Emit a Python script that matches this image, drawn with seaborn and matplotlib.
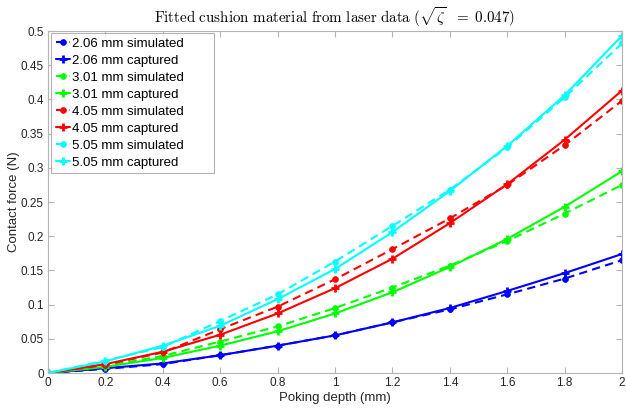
import matplotlib
matplotlib.use("Agg")
import matplotlib.pyplot as plt
import seaborn as sns
from matplotlib.ticker import FuncFormatter

# Poking depth (mm)
depth = [0, 0.2, 0.4, 0.6, 0.8, 1.0, 1.2, 1.4, 1.6, 1.8, 2.0]

# Contact force (N) per indenter size
sim_206 = [0, 0.006, 0.013, 0.026, 0.040, 0.055, 0.074, 0.093, 0.115, 0.138, 0.165]
cap_206 = [0, 0.007, 0.014, 0.026, 0.040, 0.055, 0.074, 0.095, 0.120, 0.146, 0.174]
sim_301 = [0, 0.010, 0.025, 0.046, 0.068, 0.095, 0.125, 0.157, 0.193, 0.233, 0.275]
cap_301 = [0, 0.009, 0.022, 0.040, 0.061, 0.087, 0.118, 0.155, 0.196, 0.243, 0.295]
sim_405 = [0, 0.012, 0.030, 0.064, 0.097, 0.137, 0.181, 0.226, 0.275, 0.333, 0.398]
cap_405 = [0, 0.013, 0.031, 0.056, 0.087, 0.124, 0.167, 0.219, 0.276, 0.341, 0.413]
sim_505 = [0, 0.018, 0.038, 0.076, 0.115, 0.163, 0.215, 0.268, 0.330, 0.403, 0.482]
cap_505 = [0, 0.017, 0.040, 0.069, 0.108, 0.152, 0.206, 0.266, 0.332, 0.406, 0.493]

sizes = ["2.06", "3.01", "4.05", "5.05"]
colors = ["#0000ff", "#00ff00", "#ff0000", "#00ffff"]
simulated = [sim_206, sim_301, sim_405, sim_505]
captured = [cap_206, cap_301, cap_405, cap_505]

x_ticks = [0, 0.2, 0.4, 0.6, 0.8, 1.0, 1.2, 1.4, 1.6, 1.8, 2.0]
y_ticks = [0, 0.05, 0.1, 0.15, 0.2, 0.25, 0.3, 0.35, 0.4, 0.45, 0.5]

sns.set_style("white")
plt.rcParams["font.family"] = ["Liberation Sans", "DejaVu Sans"]
plt.rcParams["mathtext.fontset"] = "cm"

fig = plt.figure(figsize=(6.26, 4.12), dpi=100)
ax = fig.add_axes([48 / 626, 39 / 412, 574 / 626, 342 / 412])


def draw(values, col, label, dashed):
    n0 = len(ax.lines)
    sns.lineplot(x=depth, y=values, ax=ax, color=col, legend=False,
                 estimator=None, sort=False)
    line = ax.lines[n0]
    line.set_linewidth(1.5)
    line.set_color(col)
    line.set_markeredgecolor(col)
    line.set_markerfacecolor(col)
    if dashed:
        line.set_linestyle((0, (4, 2.5)))
        line.set_marker("o")
        line.set_markersize(4.2)
        line.set_markeredgewidth(0.5)
    else:
        line.set_linestyle("-")
        line.set_marker("+")
        line.set_markersize(6)
        line.set_markeredgewidth(2)
    line.set_label(label)


for size, col, sim, cap in zip(sizes, colors, simulated, captured):
    draw(sim, col, f"{size} mm simulated", True)
    draw(cap, col, f"{size} mm captured", False)

ax.set_xlim(0, 2)
ax.set_ylim(0, 0.5)
ax.set_xticks(x_ticks)
ax.set_yticks(y_ticks)
fmt = FuncFormatter(lambda v, p: f"{v:g}")
ax.xaxis.set_major_formatter(fmt)
ax.yaxis.set_major_formatter(fmt)

axis_grey = "#b4b4b4"
text_grey = "#262626"
for s in ax.spines.values():
    s.set_visible(True)
    s.set_color(axis_grey)
    s.set_linewidth(0.8)
ax.tick_params(direction="in", length=4, width=0.8, color=axis_grey,
               labelcolor=text_grey, labelsize=8.5, top=True, right=True,
               bottom=True, left=True, pad=3)

ax.set_xlabel("Poking depth (mm)", fontsize=9.5, color=text_grey, labelpad=2)
ax.set_ylabel("Contact force (N)", fontsize=9.5, color=text_grey, labelpad=0.5)
ax.set_title(r"$\mathrm{Fitted\ cushion\ material\ from\ laser\ data\ (}"
             r"\sqrt{\zeta}\ \ =\ 0.047\mathrm{)}$", fontsize=10.8,
             color="#000000", pad=6)

handles = list(ax.lines)
leg = ax.legend(handles=handles, labels=[h.get_label() for h in handles],
                loc="upper left", bbox_to_anchor=(3 / 574, 0, 163 / 574, 340 / 342),
                mode="expand", borderaxespad=0, fontsize=9.5, frameon=True,
                fancybox=False, handlelength=1.1, handletextpad=0.15,
                borderpad=0.35, labelspacing=0.36)
leg.get_frame().set_edgecolor("#a0a0a0")
leg.get_frame().set_linewidth(0.8)
for t in leg.get_texts():
    t.set_color("#000000")

fig.savefig("out.png", dpi=100)
